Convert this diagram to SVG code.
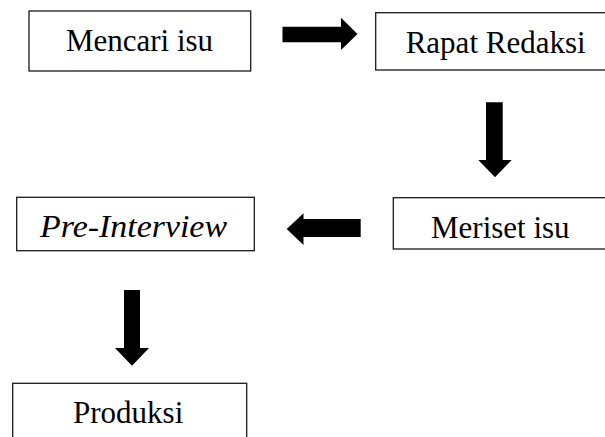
<svg xmlns="http://www.w3.org/2000/svg" width="605" height="437" viewBox="0 0 605 437">
<style>
.box{fill:#fff;stroke:#1a1a1a;stroke-width:1.3}
.lbl{font-family:"Liberation Serif","Times New Roman",serif;font-size:31px;fill:#000}
.arr{fill:#000}
</style>
<rect width="605" height="437" fill="#fff"/>
<g id="connectors">
<polygon class="arr" points="282.5,26.7 341,26.7 341,17.7 357.5,34 341,50 341,42.3 282.5,42.3"/>
<polygon class="arr" points="486,102.3 502.7,102.3 502.7,160 511.7,160 495,177.3 478.3,160 486,160"/>
<polygon class="arr" points="360.7,219 303.5,219 303.5,213.3 286.7,229 303.5,245 303.5,237 360.7,237"/>
<polygon class="arr" points="124,290 140,290 140,348 149,348 132,365.7 115,348 124,348"/>
</g>
<g id="n1"><rect class="box" x="29" y="11" width="221.7" height="60"/><text class="lbl" x="139.5" y="50.5" text-anchor="middle">Mencari isu</text></g>
<g id="n2"><rect class="box" x="375.7" y="12.7" width="240" height="57.3"/><text class="lbl" x="405.7" y="53.3">Rapat Redaksi</text></g>
<g id="n3"><rect class="box" x="16.7" y="197.3" width="237.6" height="53.4"/><text class="lbl" x="40" y="236.5" font-style="italic" textLength="187" lengthAdjust="spacingAndGlyphs">Pre-Interview</text></g>
<g id="n4"><rect class="box" x="393.3" y="197.7" width="213" height="51.3"/><text class="lbl" x="431" y="238">Meriset isu</text></g>
<g id="n5"><rect class="box" x="12.7" y="383.3" width="234" height="70"/><text class="lbl" x="73" y="423.3">Produksi</text></g>
</svg>
